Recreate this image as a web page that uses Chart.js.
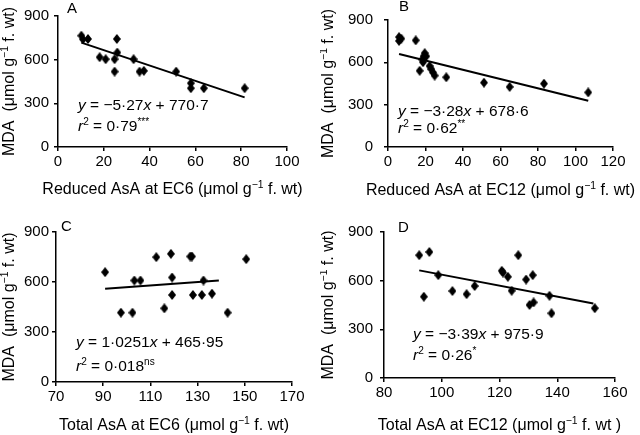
<!DOCTYPE html>
<html>
<head>
<meta charset="utf-8">
<script src="https://cdn.jsdelivr.net/npm/chart.js@4.4.1/dist/chart.umd.min.js"></script>
<style>
  body { margin: 0; background: #fff; }
  #wrap { position: relative; width: 640px; height: 435px; }
  canvas { position: absolute; }
</style>
</head>
<body>
<div id="wrap">
  <canvas id="cA" width="320" height="215" style="left:0;top:0"></canvas>
  <canvas id="cB" width="320" height="215" style="left:320px;top:0"></canvas>
  <canvas id="cC" width="320" height="220" style="left:0;top:215px"></canvas>
  <canvas id="cD" width="320" height="220" style="left:320px;top:215px"></canvas>
</div>
<script>
// DONNÉES
const mdaTicks = [0, 300, 600, 900];

const aTicks = [0, 20, 40, 60, 80, 100];
const aX = [10.2, 10.9, 13.1, 18.2, 20.8, 24.7, 24.7, 25.7, 25.9, 33.0, 35.6, 37.5, 51.6, 58.0, 58.0, 63.7, 81.5];
const aY = [765, 740, 742, 617, 603, 603, 518, 742, 649, 603, 518, 523, 518, 438, 404, 404, 404];
const aFit = [-5.27, 770.7];
const aRange = [10.2, 81.5];

const bTicks = [0, 20, 40, 60, 80, 100, 120];
const bX = [5.9, 5.9, 7.1, 14.8, 16.9, 18.3, 18.7, 19.0, 19.6, 20.4, 22.2, 23.1, 24.0, 24.9, 31.1, 51.2, 64.9, 83.2, 106.8];
const bY = [779, 752, 768, 756, 540, 620, 601, 643, 665, 643, 574, 551, 528, 506, 494, 456, 426, 449, 387];
const bFit = [-3.28, 678.6];
const bRange = [5.9, 106.8];

const cTicks = [70, 90, 110, 130, 150, 170];
const cX = [90.8, 97.5, 102.4, 103.2, 105.8, 112.5, 115.9, 118.7, 119.2, 119.2, 126.9, 127.6, 128.0, 131.8, 132.5, 136.1, 142.7, 150.6];
const cY = [659, 416, 416, 609, 609, 749, 442, 769, 627, 522, 753, 753, 522, 522, 609, 530, 416, 737];
const cFit = [1.0251, 465.95];
const cRange = [90.8, 139];

const dTicks = [80, 100, 120, 140, 160];
const dX = [92.2, 93.8, 95.7, 98.8, 103.7, 108.6, 111.4, 120.8, 121.2, 122.9, 124.2, 126.5, 129.2, 130.4, 131.5, 131.8, 137.3, 138.0, 153.0];
const dY = [757, 501, 777, 634, 536, 517, 567, 661, 650, 624, 538, 757, 607, 450, 634, 466, 507, 399, 430];
const dFit = [-3.39, 975.9];
const dRange = [92.2, 152.5];

const FONT = '"Liberation Sans", Arial, Helvetica, sans-serif';

// losange un peu plus haut que large
const diamond = document.createElement("canvas");
diamond.width = 8; diamond.height = 10;
(function () {
  const g = diamond.getContext("2d");
  g.fillStyle = "#000";
  g.beginPath();
  g.moveTo(4, 0); g.lineTo(8, 5); g.lineTo(4, 10); g.lineTo(0, 5);
  g.closePath(); g.fill();
})();

// texte avec italique / exposant : parts = [[texte, style], ...]
function richWidth(ctx, parts, size) {
  let w = 0;
  parts.forEach(([t, s]) => {
    const sz = s === "s" ? size * 0.65 : size;
    ctx.font = (s === "i" ? "italic " : "") + sz + "px " + FONT;
    w += ctx.measureText(t).width;
  });
  return w;
}
function drawRich(ctx, parts, x, y, size, align) {
  let cx = align === "center" ? x - richWidth(ctx, parts, size) / 2 : x;
  ctx.textBaseline = "alphabetic";
  ctx.textAlign = "left";
  ctx.fillStyle = "#000";
  parts.forEach(([t, s]) => {
    const sz = s === "s" ? size * 0.65 : size;
    ctx.font = (s === "i" ? "italic " : "") + sz + "px " + FONT;
    ctx.fillText(t, cx, s === "s" ? y - size * 0.38 : y);
    cx += ctx.measureText(t).width;
  });
}

const yTitle = [["MDA  (\u03bcmol g", ""], ["\u22121", "s"], [" f. wt)", ""]];

function makePanel(id, p) {
  const fitX = p.range;
  const fitY = fitX.map(v => p.fit[0] * v + p.fit[1]);
  const textPlugin = {
    id: "texts",
    afterDraw(chart) {
      const ctx = chart.ctx, ca = chart.chartArea;
      ctx.save();
      ctx.font = "15px " + FONT;
      ctx.fillStyle = "#000";
      ctx.textAlign = "left";
      ctx.textBaseline = "alphabetic";
      ctx.fillText(p.letter, p.letterPos[0], p.letterPos[1]);
      drawRich(ctx, p.eq, p.eqPos[0], p.eqPos[1], 15.5, "left");
      drawRich(ctx, p.r2, p.eqPos[0], p.eqPos[2], 15.5, "left");
      drawRich(ctx, p.xTitle, (ca.left + ca.right) / 2, p.xTitleY, 16, "center");
      ctx.save();
      ctx.translate(p.yTitleX, (ca.top + ca.bottom) / 2);
      ctx.rotate(-Math.PI / 2);
      drawRich(ctx, yTitle, 0, 0, 16, "center");
      ctx.restore();
      ctx.restore();
    }
  };
  const W = p.size[0], H = p.size[1], a = p.area;
  const xH = 30;
  new Chart(document.getElementById(id), {
    type: "scatter",
    data: {
      datasets: [{
        data: p.x.map((v, i) => ({ x: v, y: p.y[i] })),
        pointStyle: diamond,
        pointRadius: 4,
        pointHoverRadius: 4
      }, {
        type: "line",
        data: fitX.map((v, i) => ({ x: v, y: fitY[i] })),
        borderColor: "#000",
        borderWidth: 2,
        pointRadius: 0,
        fill: false
      }]
    },
    options: {
      responsive: false,
      animation: false,
      events: [],
      layout: { padding: { left: 0, top: a.t, right: W - a.r, bottom: H - a.b - xH } },
      plugins: { legend: { display: false }, tooltip: { enabled: false } },
      scales: {
        x: {
          type: "linear",
          min: p.ticks[0], max: p.ticks[p.ticks.length - 1],
          afterBuildTicks: s => { s.ticks = p.ticks.map(v => ({ value: v })); },
          afterFit: s => { s.height = xH; },
          grid: { drawOnChartArea: false, drawTicks: true, tickLength: 4, color: "#000", lineWidth: 1.5 },
          border: { display: true, color: "#000", width: 1.5 },
          ticks: { color: "#000", font: { size: 15, family: FONT }, padding: 2, maxRotation: 0 }
        },
        y: {
          min: 0, max: 900,
          afterBuildTicks: s => { s.ticks = mdaTicks.map(v => ({ value: v })); },
          afterFit: s => { s.width = a.l; },
          grid: { drawOnChartArea: false, drawTicks: true, tickLength: 4, color: "#000", lineWidth: 1.5 },
          border: { display: true, color: "#000", width: 1.5 },
          ticks: { color: "#000", font: { size: 15, family: FONT }, padding: p.yPad }
        }
      }
    },
    plugins: [textPlugin]
  });
}

makePanel("cA", {
  size: [320, 215], area: { l: 58, r: 287, t: 16, b: 147 }, yPad: 5,
  ticks: aTicks, x: aX, y: aY, fit: aFit, range: aRange,
  letter: "A", letterPos: [67, 13],
  eq: [["y", "i"], [" = \u22125\u00b727", ""], ["x", "i"], [" + 770\u00b77", ""]],
  r2: [["r", "i"], ["2", "s"], [" = 0\u00b779", ""], ["***", "s"]],
  eqPos: [78, 110, 131],
  xTitle: [["Reduced AsA at EC6 (\u03bcmol g", ""], ["\u22121", "s"], [" f. wt)", ""]],
  xTitleY: 194, yTitleX: 14
});
makePanel("cB", {
  size: [320, 215], area: { l: 68, r: 293, t: 15, b: 147 }, yPad: 11,
  ticks: bTicks, x: bX, y: bY, fit: bFit, range: bRange,
  letter: "B", letterPos: [79, 11],
  eq: [["y", "i"], [" = \u22123\u00b728", ""], ["x", "i"], [" + 678\u00b76", ""]],
  r2: [["r", "i"], ["2", "s"], [" = 0\u00b762", ""], ["**", "s"]],
  eqPos: [78, 116, 133],
  xTitle: [["Reduced AsA at EC12 (\u03bcmol g", ""], ["\u22121", "s"], [" f. wt)", ""]],
  xTitleY: 195, yTitleX: 13
});
makePanel("cC", {
  size: [320, 220], area: { l: 56, r: 292, t: 17, b: 167 }, yPad: 3,
  ticks: cTicks, x: cX, y: cY, fit: cFit, range: cRange,
  letter: "C", letterPos: [61, 16],
  eq: [["y", "i"], [" = 1\u00b70251", ""], ["x", "i"], [" + 465\u00b795", ""]],
  r2: [["r", "i"], ["2", "s"], [" = 0\u00b7018", ""], ["ns", "s"]],
  eqPos: [76, 132, 156],
  xTitle: [["Total AsA at EC6 (\u03bcmol g", ""], ["\u22121", "s"], [" f. wt)", ""]],
  xTitleY: 215, yTitleX: 14
});
makePanel("cD", {
  size: [320, 220], area: { l: 64, r: 295, t: 17, b: 163 }, yPad: 7,
  ticks: dTicks, x: dX, y: dY, fit: dFit, range: dRange,
  letter: "D", letterPos: [78, 17],
  eq: [["y", "i"], [" = \u22123\u00b739", ""], ["x", "i"], [" + 975\u00b79", ""]],
  r2: [["r", "i"], ["2", "s"], [" = 0\u00b726", ""], ["*", "s"]],
  eqPos: [93, 124, 145],
  xTitle: [["Total AsA at EC12 (\u03bcmol g", ""], ["\u22121", "s"], [" f. wt )", ""]],
  xTitleY: 215, yTitleX: 13
});
</script>
</body>
</html>
